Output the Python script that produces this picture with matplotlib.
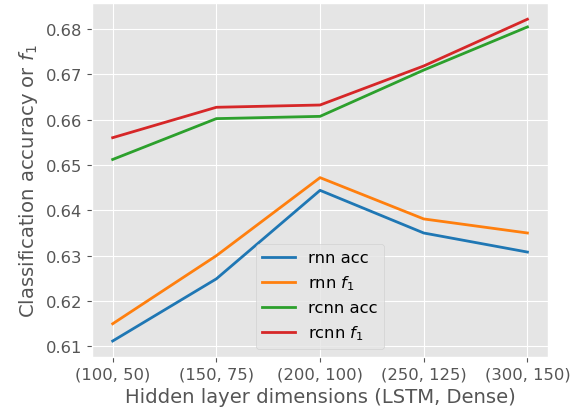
import matplotlib
matplotlib.use("Agg")
import matplotlib.pyplot as plt

plt.style.use("ggplot")
plt.rcParams["font.size"] = 11.8

dims = ["(100, 50)", "(150, 75)", "(200, 100)", "(250, 125)", "(300, 150)"]
rnn_acc = [0.6112, 0.6249, 0.6444, 0.6350, 0.6308]
rnn_f1 = [0.6150, 0.6300, 0.6472, 0.6381, 0.6350]
rcnn_acc = [0.6512, 0.6602, 0.6607, 0.6709, 0.6804]
rcnn_f1 = [0.6560, 0.6627, 0.6632, 0.6718, 0.6821]

fig = plt.figure(figsize=(5.71, 4.14), dpi=100)
ax = fig.add_axes([0.161, 0.135, 0.799, 0.855])

x = list(range(len(dims)))
ax.plot(x, rnn_acc, color="#1f77b4", lw=2, label="rnn acc")
ax.plot(x, rnn_f1, color="#ff7f0e", lw=2, label="rnn $f_1$")
ax.plot(x, rcnn_acc, color="#2ca02c", lw=2, label="rcnn acc")
ax.plot(x, rcnn_f1, color="#d62728", lw=2, label="rcnn $f_1$")

ax.set_xticks(x)
ax.set_xticklabels(dims)
ax.set_yticks([0.61, 0.62, 0.63, 0.64, 0.65, 0.66, 0.67, 0.68])
ax.set_xlabel("Hidden layer dimensions (LSTM, Dense)")
ax.set_ylabel("Classification accuracy or $f_1$")
ax.legend(loc="lower center")

fig.savefig("out.png", dpi=100)
